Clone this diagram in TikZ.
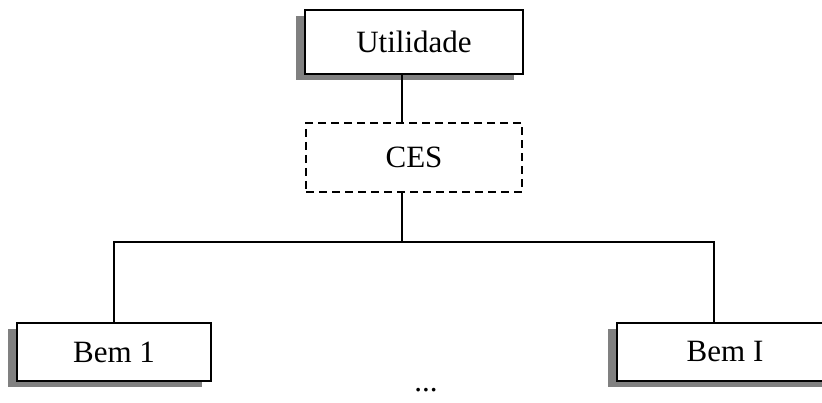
\documentclass[tikz,border=0pt]{standalone}
\usepackage{fontspec}
\setmainfont{Liberation Serif}
\usepackage{tikz}

\tikzset{
  box/.style={draw,line width=1.8pt,fill=white,inner sep=0pt,
    font=\fontsize{31}{37}\selectfont,
    preaction={draw=none,fill=black!50,transform canvas={xshift=-9pt,yshift=-6pt}}},
  nestbox/.style={draw,line width=1.8pt,dash pattern=on 8pt off 5pt,inner sep=0pt,
    font=\fontsize{31}{37}\selectfont},
  wire/.style={line width=1.8pt}
}

\begin{document}
\begin{tikzpicture}[x=1pt,y=1pt]
\useasboundingbox (0,0) rectangle (822,402);

\node[box,minimum width=218pt,minimum height=64pt] (util) at (414,360) {Utilidade};
\node[nestbox,minimum width=216pt,minimum height=69pt] (ces) at (414,244.5) {CES};
\node[box,minimum width=194pt,minimum height=58pt] (bem1) at (114,50) {Bem 1};
\node[box,minimum width=216pt,minimum height=58pt] (bemI) at (725,50) {Bem I};
\node[font=\fontsize{31}{37}\selectfont,inner sep=0pt] (dots) at (426,12) {...};

\coordinate (split) at (402,160);
\coordinate (bemIin) at (714,0);

\draw[wire] (util.south -| split) -- (ces.north -| split);
\draw[wire] (ces.south -| split) -- (split);
\draw[wire] (bem1.north) |- (split) -| (bemI.north -| bemIin);

\end{tikzpicture}
\end{document}
